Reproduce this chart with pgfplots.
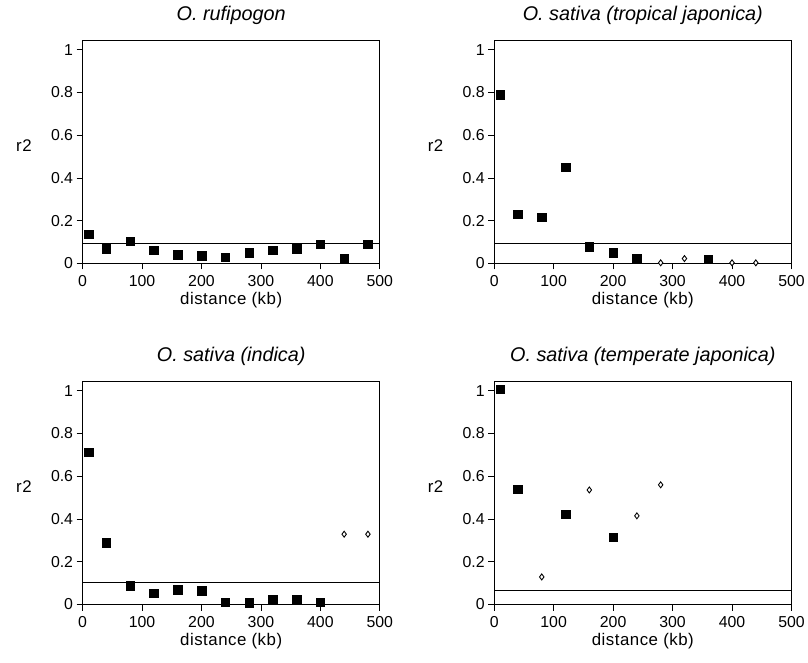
\documentclass[border=0pt]{standalone}
\usepackage{fontspec}
\setmainfont{Liberation Sans}
\newfontfamily\lblfont[LetterSpace=3]{Liberation Sans}
\usepackage{pgfplots}
\pgfplotsset{compat=1.18}

\pgfplotsset{
  rpanel/.style={
    scale only axis, width=299bp, height=224bp,
    xmin=0, xmax=500, ymin=0, ymax=1.042,
    xtick={0,100,...,500}, ytick={0,0.2,0.4,0.6,0.8,1},
    yticklabels={0,0.2,0.4,0.6,0.8,1},
    xtick pos=bottom, ytick pos=left, tick align=outside,
    major tick length=6bp, axis line style={line width=0.7pt},
    tick style={line width=0.7pt, black},
    ticklabel style={font=\fontsize{16}{18}\selectfont},
    xticklabel style={yshift=-2bp},
    /pgf/number format/assume math mode=true,
    xlabel={distance (kb)}, ylabel={r2},
    x label style={at={(axis description cs:0.5,0)}, anchor=center, yshift=-37bp,
      font=\fontsize{17}{19}\lblfont},
    y label style={at={(axis description cs:-0.197,0.53)}, anchor=center, rotate=-90,
      font=\fontsize{17}{19}\lblfont},
    title style={at={(axis description cs:0.5,1)}, anchor=base, yshift=14bp,
      font=\fontsize{20}{22}\selectfont\itshape},
    clip=false,
  },
  sq/.style={only marks, mark=square*, mark size=4.3bp, mark options={fill=black, draw=black}},
  dm/.style={only marks, mark=diamond*, mark size=3bp, mark options={fill=white, draw=black, line width=0.9pt}},
  hl/.style={black, line width=0.7pt, no marks},
}

\begin{document}
\begin{tikzpicture}[x=1bp, y=1bp]
\path (0,0) rectangle (808,666);

\begin{axis}[rpanel, at={(83bp,401bp)}, anchor=south west, title={O. rufipogon}]
\addplot[hl] coordinates {(0,0.093) (500,0.093)};
\addplot[sq] coordinates {
(10,0.136) (40,0.070) (80,0.104) (120,0.062) (160,0.042) (200,0.037) (240,0.030)
(280,0.050) (320,0.062) (360,0.070) (400,0.091) (440,0.023) (480,0.090)};
\end{axis}

\begin{axis}[rpanel, at={(497bp,401bp)}, anchor=south west, title={O. sativa (tropical japonica)}]
\addplot[hl] coordinates {(0,0.093) (500,0.093)};
\addplot[sq] coordinates {
(10,0.790) (40,0.230) (80,0.217) (120,0.450) (160,0.078) (200,0.050) (240,0.023) (360,0.019)};
\addplot[dm] coordinates {(280,0.003) (320,0.023) (400,0.003) (440,0.003)};
\end{axis}

\begin{axis}[rpanel, at={(83bp,58bp)}, anchor=south west, title={O. sativa (indica)}]
\addplot[hl] coordinates {(0,0.104) (500,0.104)};
\addplot[sq] coordinates {
(10,0.713) (40,0.290) (80,0.088) (120,0.054) (160,0.070) (200,0.065) (240,0.011)
(280,0.008) (320,0.023) (360,0.023) (400,0.011)};
\addplot[dm] coordinates {(440,0.329) (480,0.329)};
\end{axis}

\begin{axis}[rpanel, at={(497bp,58bp)}, anchor=south west, title={O. sativa (temperate japonica)}]
\addplot[hl] coordinates {(0,0.067) (500,0.067)};
\addplot[sq] coordinates {(10,1.008) (40,0.540) (120,0.422) (200,0.315)};
\addplot[dm] coordinates {(80,0.129) (160,0.536) (240,0.415) (280,0.560)};
\end{axis}
\end{tikzpicture}
\end{document}
